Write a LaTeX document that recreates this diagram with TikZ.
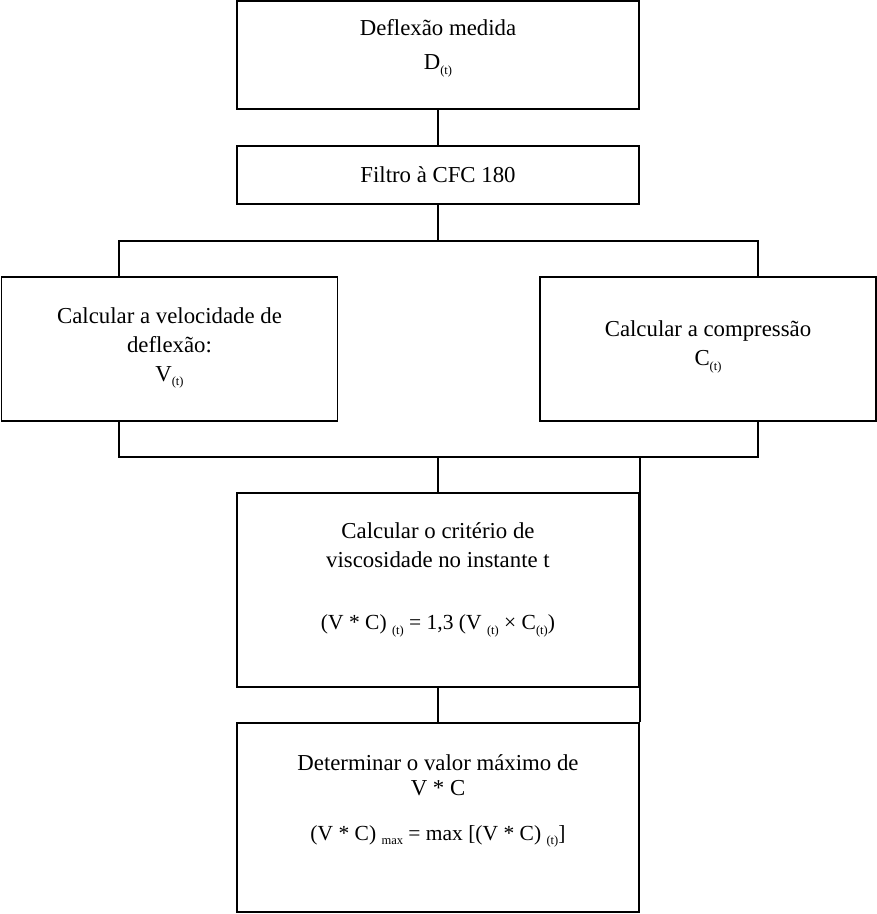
\documentclass[tikz,border=0pt]{standalone}
\usepackage{fontspec}
\setmainfont{Liberation Serif}
\newcommand{\lsub}[1]{\raisebox{-0.45ex}{\fontsize{12.5}{12.5}\selectfont #1}}
\begin{document}
\begin{tikzpicture}[x=1pt,y=-1pt,
  box/.style={draw, line width=1.6pt, inner sep=0pt, anchor=center},
  txt/.style={align=center, inner sep=0pt, font=\fontsize{22.8}{29}\selectfont},
  conn/.style={line width=1.5pt}]
\useasboundingbox (0,0) rectangle (877,914);
% boxes
\node[box, minimum width=402pt, minimum height=108pt] (b1) at (438,55) {};
\node[box, minimum width=402pt, minimum height=58pt] (b2) at (438,175) {};
\node[box, minimum width=336pt, minimum height=144pt] (L) at (169.5,349) {};
\node[box, minimum width=336pt, minimum height=144pt] (R) at (708,349) {};
\node[box, minimum width=402pt, minimum height=194pt] (M) at (438,590) {};
\node[box, minimum width=402pt, minimum height=189pt] (W) at (438,817.5) {};
% texts
\node[txt] (t1) at (438,48) {Deflexão medida\\[5pt]D\lsub{(t)}};
\node[txt] (t2) at (438,175) {Filtro à CFC 180};
\node[txt] (tL) at (169.5,348) {Calcular a velocidade de\\deflexão:\\V\lsub{(t)}};
\node[txt] (tR) at (708,347) {Calcular a compressão\\C\lsub{(t)}};
\node[txt] (tM) at (438,580) {Calcular o critério de\\viscosidade no instante t\\[33pt]{\fontsize{21.5}{29}\selectfont (V * C) \lsub{(t)} = 1,3 (V \lsub{(t)} × C\lsub{(t)})}};
\node[txt] (tW) at (438,801) {Determinar o valor máximo de\\[-4pt]V * C\\[16pt]{\fontsize{21.5}{29}\selectfont (V * C) \lsub{max} = max [(V * C) \lsub{(t)}]}};
% connector coordinates
\coordinate (tl) at (119,241);
\coordinate (tr) at (758,241);
\coordinate (bl) at (119,457);
\coordinate (br) at (758,457);
% connectors
\draw[conn] (b1.south) -- (b2.north);
\draw[conn] (b2.south) -- (b2.south |- tl);
\draw[conn] (tl |- L.north) -- (tl) -- (tr) -- (tr |- R.north);
\draw[conn] (bl |- L.south) -- (bl) -- (br) -- (br |- R.south);
\draw[conn] (M.north |- bl) -- (M.north);
\draw[conn] (M.north east |- bl) -- (W.north east);
\draw[conn] (M.south) -- (W.north);
\end{tikzpicture}
\end{document}
